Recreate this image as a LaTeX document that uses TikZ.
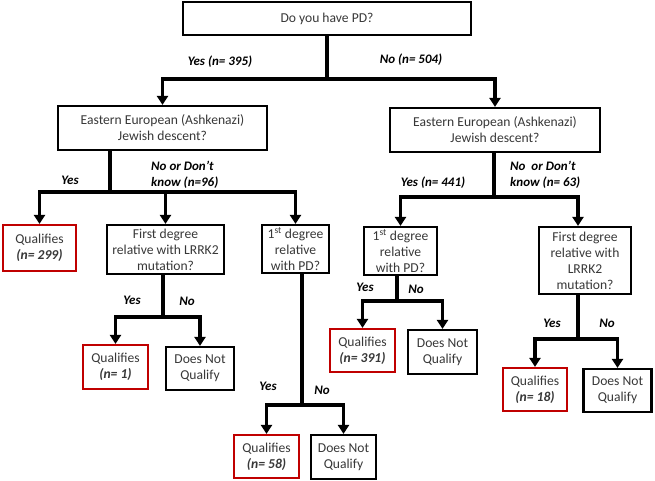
\documentclass[tikz,border=0pt]{standalone}
\usepackage{fontspec}
\setmainfont{Carlito}
\usetikzlibrary{arrows.meta}
\definecolor{qred}{RGB}{192,0,0}
\definecolor{txtgray}{RGB}{56,56,56}
\tikzset{
  box/.style={draw=black, line width=2.2pt, inner sep=0pt, align=center, text=txtgray,
    font=\fontsize{13.6}{16}\selectfont},
  qbox/.style={box, draw=qred},
  conn/.style={line width=3.2pt},
  arr/.style={line width=3.2pt, -{Triangle[width=11pt,length=9pt]}},
  lab/.style={font=\fontsize{13}{16}\selectfont\bfseries\itshape, inner sep=0pt, text=black},
}
\begin{document}
\begin{tikzpicture}[x=1pt,y=-1pt]
\useasboundingbox[fill=white] (0,0) rectangle (655,481);

% boxes
\node[box, minimum width=288pt, minimum height=33pt] (top) at (327,18.5) {Do you have PD?};
\node[box, minimum width=209pt, minimum height=44pt] (esL) at (162.5,128) {Eastern European (Ashkenazi)\\Jewish descent?};
\node[box, minimum width=210pt, minimum height=44pt] (esR) at (495,130) {Eastern European (Ashkenazi)\\Jewish descent?};

\node[qbox, minimum width=73pt, minimum height=46pt] (q299) at (39.5,248) {Qualifies\\\textbf{\textit{(n= 299)}}};
\node[box, minimum width=117pt, minimum height=49pt] (lrL) at (165.5,249.5) {First degree\\relative with LRRK2\\mutation?};
\node[box, minimum width=67pt, minimum height=48pt] (pdL) at (295.5,249) {1\textsuperscript{st} degree\\relative\\with PD?};
\node[box, minimum width=73pt, minimum height=48pt] (pdR) at (400.5,251) {1\textsuperscript{st} degree\\relative\\with PD?};
\node[box, minimum width=92pt, minimum height=67pt] (lrR) at (585,260.5) {First degree\\relative with\\LRRK2\\mutation?};

\node[qbox, minimum width=65pt, minimum height=44pt] (q1) at (115.5,367) {Qualifies\\\textbf{\textit{(n= 1)}}};
\node[box, minimum width=68pt, minimum height=43pt] (dnq1) at (200,368.5) {Does Not\\Qualify};
\node[qbox, minimum width=65pt, minimum height=43pt] (q391) at (362.5,350.5) {Qualifies\\\textbf{\textit{(n= 391)}}};
\node[box, minimum width=69pt, minimum height=44pt] (dnq2) at (442.5,352) {Does Not\\Qualify};
\node[qbox, minimum width=64pt, minimum height=43pt] (q18) at (535,389.5) {Qualifies\\\textbf{\textit{(n= 18)}}};
\node[box, minimum width=68pt, minimum height=43pt] (dnq3) at (617.5,390.5) {Does Not\\Qualify};
\node[qbox, minimum width=65pt, minimum height=43pt] (q58) at (266.5,456.5) {Qualifies\\\textbf{\textit{(n= 58)}}};
\node[box, minimum width=65pt, minimum height=44pt] (dnq4) at (343.5,457) {Does Not\\Qualify};

% junctions
\coordinate (j1) at (327,79);
\coordinate (j2) at (110,192);
\coordinate (j3) at (163,317);
\coordinate (j4) at (302,405);
\coordinate (j5) at (494,197);
\coordinate (j6) at (578,339);
\coordinate (j7) at (397,301);

% connectors
\draw[conn] (top.south) -- (j1);
\draw[arr] (j1) -| (esL.north);
\draw[arr] (j1) -| (esR.north);

\draw[conn] (esL.south -| j2) -- (j2);
\draw[arr] (j2) -| (q299.north);
\draw[arr] (j2) -| (lrL.north);
\draw[arr] (j2) -| (pdL.north);

\draw[conn] (lrL.south -| j3) -- (j3);
\draw[arr] (j3) -| (q1.north);
\draw[arr] (j3) -| (dnq1.north);

\draw[conn] (pdL.south -| j4) -- (j4);
\draw[arr] (j4) -| (q58.north);
\draw[arr] (j4) -| (dnq4.north);

\draw[conn] (esR.south -| j5) -- (j5);
\draw[arr] (j5) -| (pdR.north);
\draw[arr] (j5) -| (lrR.north -| j6);

\draw[conn] (pdR.south -| j7) -- (j7);
\draw[arr] (j7) -| (q391.north);
\draw[arr] (j7) -| (dnq2.north);

\draw[conn] (lrR.south -| j6) -- (j6);
\draw[arr] (j6) -| (q18.north);
\draw[arr] (j6) -| (dnq3.north);

% labels
\node[lab] (l1) at (220,62) {Yes (n= 395)};
\node[lab] (l2) at (411,60) {No (n= 504)};
\node[lab] (l3) at (70,180) {Yes};
\node[lab, align=left, anchor=west] (l4) at (151,175) {No or Don’t\\know (n=96)};
\node[lab] (l5) at (433,183) {Yes (n= 441)};
\node[lab, align=left, anchor=west] (l6) at (510,175) {No~ or Don’t\\know (n= 63)};
\node[lab] (l7) at (132,300) {Yes};
\node[lab] (l8) at (187,301) {No};
\node[lab] (l9) at (365,287) {Yes};
\node[lab] (l10) at (416,289) {No};
\node[lab] (l11) at (268,386) {Yes};
\node[lab] (l12) at (322,390) {No};
\node[lab] (l13) at (552,323) {Yes};
\node[lab] (l14) at (607,323) {No};
\end{tikzpicture}
\end{document}
